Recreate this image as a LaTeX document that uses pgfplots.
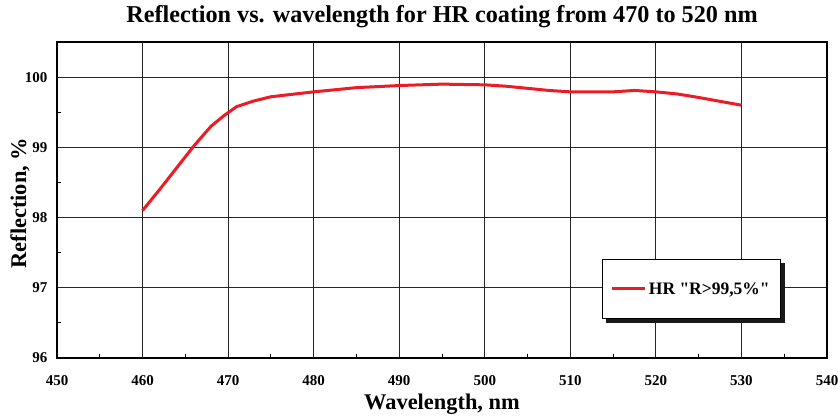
\documentclass[border=0pt]{standalone}
\usepackage{fontspec}
\setmainfont{Liberation Serif}[Ligatures=TeXOff]
\usepackage{pgfplots}
\pgfplotsset{compat=1.18}
\definecolor{hrred}{RGB}{237,28,36}

\begin{document}
\begin{tikzpicture}
\begin{axis}[
    scale only axis,
    width=770pt, height=316pt,
    xmin=450, xmax=540, ymin=96, ymax=100.5,
    xtick={450,460,...,540},
    ytick={96,97,98,99,100},
    minor x tick num=1, minor y tick num=1,
    tick pos=left, tick align=inside,
    major tick length=0pt, minor tick length=4pt,
    grid=major,
    major grid style={black!85, line width=0.8pt},
    axis line style={black, line width=1.3pt},
    minor tick style={black, line width=0.8pt},
    ticklabel style={font=\fontsize{15}{15}\selectfont\bfseries},
    /pgf/number format/assume math mode=true,
    /pgf/number format/1000 sep={},
    xticklabel style={anchor=base, yshift=-27pt},
    yticklabel style={anchor=east, xshift=-6pt},
    title={Reflection vs. wavelength for HR coating from 470 to 520 nm},
    title style={at={(axis description cs:0.5,1)}, anchor=base, yshift=13pt,
        font=\fontsize{24.2}{24.2}\selectfont\bfseries},
    xlabel={Wavelength, nm},
    xlabel style={at={(axis description cs:0.5,0)}, anchor=base, yshift=-51pt,
        font=\fontsize{22.4}{22.4}\selectfont\bfseries},
    ylabel={Reflection, \%},
    ylabel style={at={(axis description cs:-0.048,0.49)}, anchor=center,
        font=\fontsize{22.4}{22.4}\selectfont\bfseries},
    legend style={name=leg, at={(0.7078,0.3133)}, anchor=north west,
        draw=black, line width=0.8pt, fill=white,
        inner xsep=8.5pt, inner ysep=21pt,
        font=\fontsize{17.5}{17.5}\selectfont\bfseries},
    legend image code/.code={\draw[#1] (0pt,0pt) -- (33pt,0pt);},
]
\addplot[hrred, line width=3pt] coordinates {
    (460,98.1) (462,98.4) (464,98.71) (466,99.02) (468,99.3) (469.5,99.45)
    (471,99.58) (473,99.66) (475,99.72) (480,99.79) (485,99.85) (490,99.88)
    (495,99.9) (500,99.89) (502.5,99.87) (507.5,99.81) (510,99.79) (515,99.79)
    (517.5,99.81) (520,99.79) (522.5,99.76) (525,99.71) (530,99.6)
};
\addlegendentry{HR "R>99,5\%"}
\end{axis}
\fill[black!90] ([xshift=0.4pt,yshift=-4pt]leg.north east) rectangle ([xshift=4.4pt,yshift=-4.4pt]leg.south east);
\fill[black!90] ([xshift=4pt,yshift=-0.4pt]leg.south west) rectangle ([xshift=4.4pt,yshift=-4.4pt]leg.south east);
\pgfresetboundingbox
\path ([xshift=-57pt,yshift=42pt]current axis.north west) rectangle ([xshift=13pt,yshift=-58pt]current axis.south east);
\end{tikzpicture}
\end{document}
